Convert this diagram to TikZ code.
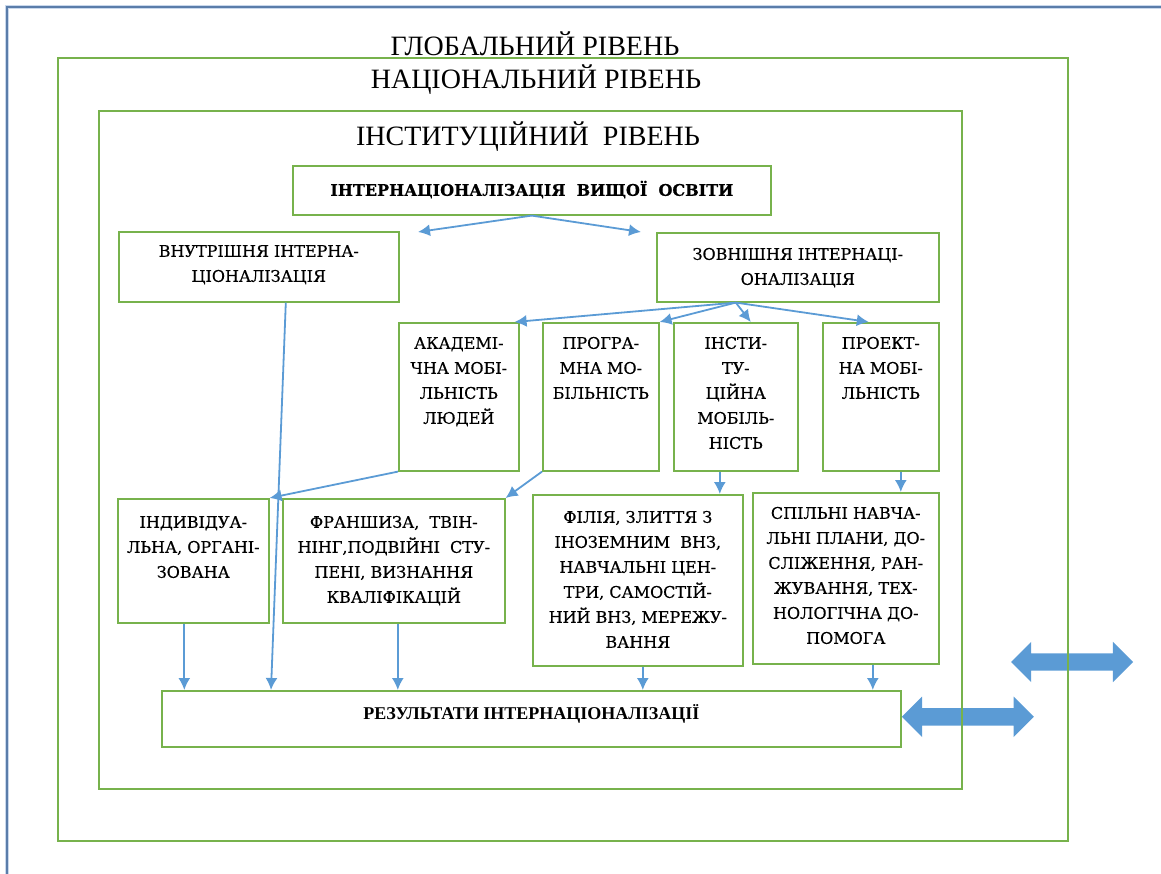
\documentclass[tikz,border=0pt]{standalone}
\usepackage{fontspec}
\setmainfont{Liberation Serif}
\newfontfamily\boxfont[FakeBold=0.6]{DejaVu Serif}
\usetikzlibrary{arrows.meta,shapes.arrows,calc}
\definecolor{boxgreen}{HTML}{77B24C}
\definecolor{linkblue}{HTML}{5B9BD5}
\definecolor{globblue}{HTML}{5A7DAA}
\definecolor{globhalo}{HTML}{C9D8EC}
\newcommand{\boxtext}[4][27pt]{\parbox[t][#3][t]{#2}{\centering\rule{0pt}{#1}#4}}

\begin{document}
\begin{tikzpicture}[
		x=1pt, y=-1pt,
		>={Latex[length=12pt,width=12pt]},
		gbox/.style={draw=boxgreen, line width=1.6pt, inner sep=0pt, anchor=north west,
			font=\boxfont\fontsize{16}{25}\selectfont},
		lvlframe/.style={draw=boxgreen, line width=1.6pt, inner sep=0pt, anchor=north west},
		lvltitle/.style={inner sep=0pt, font=\fontsize{28}{30}\selectfont},
		link/.style={->, draw=linkblue, line width=1.8pt},
		dbl/.style={double arrow, fill=linkblue, draw=none, inner xsep=0pt, inner ysep=8.5pt,
			minimum width=40pt, double arrow head extend=11.5pt, double arrow tip angle=90}
	]
	\useasboundingbox (0,0) rectangle (1161,874);
	\clip (0,0) rectangle (1161,874);
	
	% global level
	\draw[globhalo, line width=4pt] (7,890) -- (7,7) -- (1180,7);
	\draw[globblue, line width=1.6pt] (7,890) -- (7,7) -- (1180,7);
	
	\node[lvltitle] (globtitle) at (535,44) {ГЛОБАЛЬНИЙ РІВЕНЬ};
	\node[lvltitle] (nattitle) at (536,80) {НАЦІОНАЛЬНИЙ РІВЕНЬ};
	\node[lvltitle] (insttitle) at (528,137) {ІНСТИТУЦІЙНИЙ\ \ РІВЕНЬ};
	
	\node[gbox] (hvo) at (292,165) {\boxtext[30pt]{478pt}{49pt}{\bfseries ІНТЕРНАЦІОНАЛІЗАЦІЯ\ \ ВИЩОЇ\ \ ОСВІТИ}};
	\node[gbox] (vnutr) at (118,231) {\boxtext[25pt]{280pt}{70pt}{ВНУТРІШНЯ ІНТЕРНА-\\ЦІОНАЛІЗАЦІЯ}};
	\node[gbox] (zovn) at (656,232) {\boxtext[27pt]{282pt}{69pt}{ЗОВНІШНЯ ІНТЕРНАЦІ-\\ОНАЛІЗАЦІЯ}};
	
	\node[gbox] (akad) at (398,322) {\boxtext[26pt]{120pt}{148pt}{АКАДЕМІ-\\ЧНА МОБІ-\\ЛЬНІСТЬ\\ЛЮДЕЙ}};
	\node[gbox] (prog) at (542,322) {\boxtext[26pt]{116pt}{148pt}{ПРОГРА-\\МНА МО-\\БІЛЬНІСТЬ}};
	\node[gbox] (inst) at (673,322) {\boxtext[26pt]{124pt}{148pt}{ІНСТИ-\\ТУ-\\ЦІЙНА\\МОБІЛЬ-\\НІСТЬ}};
	\node[gbox] (proekt) at (822,322) {\boxtext[26pt]{116pt}{148pt}{ПРОЕКТ-\\НА МОБІ-\\ЛЬНІСТЬ}};
	
	\node[gbox] (indiv) at (117,498) {\boxtext[29pt]{151pt}{124pt}{ІНДИВІДУА-\\ЛЬНА, ОРГАНІ-\\ЗОВАНА}};
	\node[gbox] (fransh) at (282,498) {\boxtext[29pt]{222pt}{124pt}{ФРАНШИЗА,\ \ ТВІН-\\НІНГ,ПОДВІЙНІ\ \ СТУ-\\ПЕНІ,\ ВИЗНАННЯ\\КВАЛІФІКАЦІЙ}};
	\node[gbox] (filia) at (532,494) {\boxtext[28pt]{210pt}{171pt}{ФІЛІЯ, ЗЛИТТЯ З\\ІНОЗЕМНИМ\ \ ВНЗ,\\НАВЧАЛЬНІ ЦЕН-\\ТРИ, САМОСТІЙ-\\НИЙ ВНЗ, МЕРЕЖУ-\\ВАННЯ}};
	\node[gbox] (spilni) at (752,492) {\boxtext[26pt]{186pt}{171pt}{СПІЛЬНІ НАВЧА-\\ЛЬНІ ПЛАНИ, ДО-\\СЛІЖЕННЯ, РАН-\\ЖУВАННЯ, ТЕХ-\\НОЛОГІЧНА ДО-\\ПОМОГА}};
	
	\node[gbox] (results) at (161,690) {\boxtext[29pt]{739pt}{56pt}{\rmfamily\bfseries\fontsize{18}{20}\selectfont РЕЗУЛЬТАТИ ІНТЕРНАЦІОНАЛІЗАЦІЇ}};
	
	\coordinate (forkl) at (418,232);
	\coordinate (forkr) at (641,232);
	\draw[link] (hvo.south) -- (forkl);
	\draw[link] (hvo.south) -- (forkr);
	
	\draw[link] ([xshift=-62pt]zovn.south) -- ([xshift=-5pt]akad.north east);
	\draw[link] ([xshift=-62pt]zovn.south) -- (prog.north east);
	\draw[link] ([xshift=-62pt]zovn.south) -- ([xshift=15pt]inst.north);
	\draw[link] ([xshift=-62pt]zovn.south) -- ([xshift=-12pt]proekt.north);
	
	\draw[link] (akad.south west) -- (indiv.north east);
	\draw[link] (prog.south west) -- (fransh.north east);
	\draw[link] ([xshift=-16pt]inst.south) -- ([xshift=-16pt]inst.south |- filia.north);
	\draw[link] ([xshift=20pt]proekt.south) -- ([xshift=20pt]proekt.south |- spilni.north);
	
	\draw[link] ([xshift=27pt]vnutr.south) -- ([xshift=110pt]results.north west);
	\draw[link] ([xshift=-9pt]indiv.south) -- ([xshift=-9pt]indiv.south |- results.north);
	\draw[link] ([xshift=4pt]fransh.south) -- ([xshift=4pt]fransh.south |- results.north);
	\draw[link] ([xshift=5pt]filia.south) -- ([xshift=5pt]filia.south |- results.north);
	\draw[link] ([xshift=27pt]spilni.south) -- ([xshift=27pt]spilni.south |- results.north);
	
	\node[dbl, minimum height=122pt] (natlink) at (1072,662) {};
	\node[dbl, minimum height=132pt, anchor=west] (instlink) at ([yshift=2pt]results.east) {};
	
	% level frames on top of the block arrows
	\node[lvlframe, minimum width=1010pt, minimum height=783pt] (national) at (57,57) {};
	\node[lvlframe, minimum width=863pt, minimum height=678pt] (institut) at (98,110) {};
	
\end{tikzpicture}
\end{document}
